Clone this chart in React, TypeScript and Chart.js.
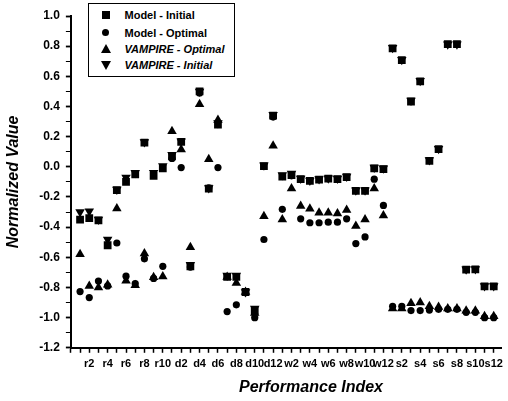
import React, { useEffect, useRef } from 'react';
import { Chart, registerables } from 'chart.js';

Chart.register(...registerables);

const CATEGORIES = [
  'r1', 'r2', 'r3', 'r4', 'r5', 'r6', 'r7', 'r8', 'r9', 'r10',
  'd1', 'd2', 'd3', 'd4', 'd5', 'd6', 'd7', 'd8', 'd9', 'd10', 'd11', 'd12',
  'w1', 'w2', 'w3', 'w4', 'w5', 'w6', 'w7', 'w8', 'w9', 'w10', 'w11', 'w12',
  's1', 's2', 's3', 's4', 's5', 's6', 's7', 's8', 's9', 's10', 's11', 's12',
];

const MODEL_INITIAL = [
  -0.35, -0.34, -0.355, -0.52, -0.155, -0.10, -0.05, 0.16, -0.06, -0.01,
  0.07, 0.165, -0.66, 0.50, -0.145, 0.28, -0.73, -0.73, -0.83, -0.95, 0.005, 0.34,
  -0.065, -0.055, -0.082, -0.093, -0.085, -0.078, -0.082, -0.068, -0.16, -0.16, -0.01, -0.015,
  0.785, 0.707, 0.433, 0.567, 0.04, 0.118, 0.813, 0.813, -0.682, -0.68, -0.793, -0.793,
];

const MODEL_OPTIMAL = [
  -0.827, -0.867, -0.757, -0.79, -0.505, -0.725, -0.775, -0.61, -0.74, -0.66,
  0.055, -0.005, -0.665, 0.49, -0.14, -0.005, -0.96, -0.915, -0.835, -1.0, -0.482, 0.33,
  -0.282, -0.06, -0.345, -0.371, -0.371, -0.367, -0.367, -0.345, -0.509, -0.465, -0.082, -0.256,
  -0.925, -0.925, -0.953, -0.953, -0.95, -0.945, -0.945, -0.945, -0.965, -0.965, -1.0, -1.0,
];

const VAMPIRE_OPTIMAL = [
  -0.58, -0.79, -0.80, -0.782, -0.276, -0.755, -0.785, -0.575, -0.733, -0.727,
  0.236, 0.115, -0.533, 0.415, 0.05, 0.31, -0.73, -0.77, -0.83, -0.97, -0.327, 0.14,
  -0.349, -0.144, -0.26, -0.278, -0.304, -0.304, -0.309, -0.287, -0.393, -0.349, -0.144, -0.322,
  -0.94, -0.94, -0.904, -0.90, -0.925, -0.93, -0.94, -0.94, -0.955, -0.955, -0.99, -0.99,
];

const VAMPIRE_INITIAL = [
  -0.30, -0.295, -0.35, -0.482, -0.15, -0.07, -0.04, 0.165, -0.04, 0.005,
  0.08, 0.17, -0.65, 0.50, -0.14, 0.29, -0.72, -0.72, -0.83, -0.94, 0.01, 0.345,
  -0.055, -0.045, -0.078, -0.09, -0.08, -0.075, -0.078, -0.064, -0.155, -0.155, -0.005, -0.01,
  0.79, 0.71, 0.44, 0.57, 0.045, 0.12, 0.813, 0.813, -0.68, -0.678, -0.79, -0.79,
];

const Y_TICK_VALUES = [
  -1.2, -1.1, -1.0, -0.9, -0.8, -0.7, -0.6, -0.5, -0.4, -0.3, -0.2, -0.1,
  0.0, 0.1, 0.2, 0.3, 0.4, 0.5, 0.6, 0.7, 0.8, 0.9, 1.0,
];

const X_TITLE = 'Performance Index';
const Y_TITLE = 'Normalized Value';

const SERIES = [
  { label: 'Model - Initial', values: MODEL_INITIAL, style: 'rect', rotation: 0, radius: 5.5, italic: false, shape: 'square' },
  { label: 'Model - Optimal', values: MODEL_OPTIMAL, style: 'circle', rotation: 0, radius: 3.6, italic: false, shape: 'circle' },
  { label: 'VAMPIRE - Optimal', values: VAMPIRE_OPTIMAL, style: 'triangle', rotation: 0, radius: 5.5, italic: true, shape: 'up' },
  { label: 'VAMPIRE - Initial', values: VAMPIRE_INITIAL, style: 'triangle', rotation: 180, radius: 5.5, italic: true, shape: 'down' },
];

const FONT = '"Liberation Sans", Arial, Helvetica, sans-serif';

const xTitlePlugin = {
  id: 'xTitlePlugin',
  afterDraw(chart: any) {
    const { ctx, chartArea } = chart;
    ctx.save();
    ctx.font = `italic bold 16px ${FONT}`;
    ctx.fillStyle = '#000';
    ctx.textAlign = 'center';
    ctx.textBaseline = 'middle';
    ctx.fillText(X_TITLE, (chartArea.left + chartArea.right) / 2 + 25, chartArea.bottom + 40);
    ctx.restore();
  },
};

function Marker({ shape }: { shape: string }) {
  const base: React.CSSProperties = { position: 'absolute', left: 0, top: 0 };
  if (shape === 'square') {
    return <div style={{ ...base, left: -4, top: -4, width: 8, height: 8, background: '#000' }} />;
  }
  if (shape === 'circle') {
    return <div style={{ ...base, left: -3.5, top: -3.5, width: 7, height: 7, borderRadius: '50%', background: '#000' }} />;
  }
  if (shape === 'up') {
    return (
      <div style={{ ...base, left: -5, top: -5, width: 0, height: 0, borderLeft: '5px solid transparent', borderRight: '5px solid transparent', borderBottom: '9px solid #000' }} />
    );
  }
  return (
    <div style={{ ...base, left: -5, top: -4, width: 0, height: 0, borderLeft: '5px solid transparent', borderRight: '5px solid transparent', borderTop: '9px solid #000' }} />
  );
}

export default function App() {
  const canvasRef = useRef<HTMLCanvasElement | null>(null);

  useEffect(() => {
    document.body.style.margin = '0';
    const canvas = canvasRef.current;
    if (!canvas) return;

    const datasets = SERIES.map((s) => ({
      label: s.label,
      data: s.values.map((v, i) => ({ x: i + 1, y: v })),
      pointStyle: s.style as any,
      pointRotation: s.rotation,
      pointRadius: s.radius,
      pointBackgroundColor: '#000',
      pointBorderColor: '#000',
      pointBorderWidth: 0,
      showLine: false,
    }));

    const chart = new Chart(canvas, {
      type: 'scatter',
      data: { datasets },
      plugins: [xTitlePlugin],
      options: {
        animation: false,
        responsive: false,
        devicePixelRatio: 1,
        layout: { padding: { left: 0, right: 3, top: 16, bottom: 25 } },
        plugins: { legend: { display: false }, tooltip: { enabled: false } },
        scales: {
          x: {
            type: 'linear',
            min: 0,
            max: 46.8,
            afterBuildTicks: (scale: any) => {
              scale.ticks = [{ value: 0 }, ...CATEGORIES.map((_, i) => ({ value: i + 1 }))];
            },
            ticks: {
              autoSkip: false,
              maxRotation: 0,
              minRotation: 0,
              padding: 5,
              color: '#000',
              font: { family: FONT, size: 11, weight: 'bold' },
              callback: (value: any) => {
                const k = Math.round(Number(value));
                return k >= 1 && k % 2 === 0 ? CATEGORIES[k - 1] : '';
              },
            },
            grid: {
              display: true,
              drawOnChartArea: false,
              drawTicks: true,
              tickLength: 5,
              tickColor: '#000',
              tickWidth: 1.5,
              color: '#000',
            },
            border: { display: true, color: '#000', width: 2 },
          },
          y: {
            type: 'linear',
            min: -1.2,
            max: 1.0,
            afterBuildTicks: (scale: any) => {
              scale.ticks = Y_TICK_VALUES.map((v) => ({ value: v }));
            },
            ticks: {
              autoSkip: false,
              padding: 6,
              color: '#000',
              font: { family: FONT, size: 12, weight: 'bold' },
              callback: (value: any) => {
                const t = Math.round(Number(value) * 10);
                return t % 2 === 0 ? (t / 10).toFixed(1) : '';
              },
            },
            grid: {
              display: true,
              drawOnChartArea: false,
              drawTicks: true,
              tickLength: 5,
              tickColor: '#000',
              tickWidth: (c: any) => (Math.round((c.tick?.value ?? 0) * 10) % 2 === 0 ? 1.8 : 1),
              color: '#000',
            },
            border: { display: true, color: '#000', width: 2 },
            title: {
              display: true,
              text: Y_TITLE,
              color: '#000',
              font: { family: FONT, size: 16, weight: 'bold', style: 'italic' },
              padding: { top: 4, bottom: 10 },
            },
          },
        },
      } as any,
    });

    return () => chart.destroy();
  }, []);

  const rowCenters = [12, 30, 46, 62];

  return (
    <div style={{ position: 'relative', width: 508, height: 401, background: '#fff' }}>
      <canvas ref={canvasRef} width={508} height={401} style={{ display: 'block', width: 508, height: 401 }} />
      <div
        style={{
          position: 'absolute',
          left: 88,
          top: 3,
          width: 147,
          height: 74,
          boxSizing: 'border-box',
          border: '1.5px solid #000',
          background: '#fff',
          fontFamily: FONT,
          fontWeight: 'bold',
          fontSize: 11,
          color: '#000',
        }}
      >
        {SERIES.map((s, i) => (
          <React.Fragment key={s.label}>
            <div style={{ position: 'absolute', left: 16.5, top: rowCenters[i] - 1.5 }}>
              <Marker shape={s.shape} />
            </div>
            <div
              style={{
                position: 'absolute',
                left: 35.5,
                top: rowCenters[i] - 1.5 - 7,
                height: 14,
                lineHeight: '14px',
                whiteSpace: 'nowrap',
                fontStyle: s.italic ? 'italic' : 'normal',
              }}
            >
              {s.label}
            </div>
          </React.Fragment>
        ))}
      </div>
    </div>
  );
}
